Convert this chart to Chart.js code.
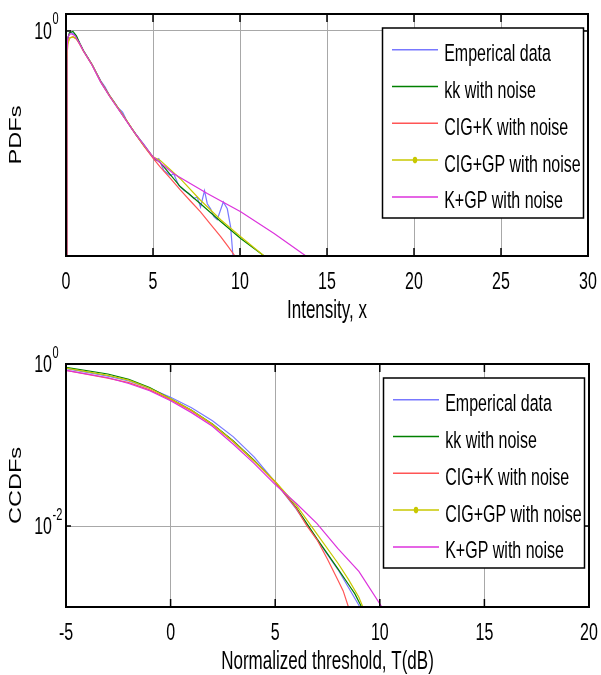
<!DOCTYPE html>
<html>
<head>
<meta charset="utf-8">
<script src="https://cdn.jsdelivr.net/npm/chart.js@4"></script>
<style>
  html, body { margin: 0; padding: 0; background: #fff; }
  #wrap { position: relative; width: 601px; height: 675px; }
  canvas { position: absolute; left: 0; }
  #pdf { top: 0; }
  #ccdf { top: 330px; }
</style>
</head>
<body>
<div id="wrap">
  <canvas id="pdf" width="601" height="330"></canvas>
  <canvas id="ccdf" width="601" height="345"></canvas>
</div>
<script>
// series names (same in both panels)
const seriesNames = ['Emperical data', 'kk with noise', 'CIG+K with noise', 'CIG+GP with noise', 'K+GP with noise'];
const seriesColors = ['rgb(120,120,255)', 'rgb(0,128,0)', 'rgb(255,85,85)', 'rgb(200,200,0)', 'rgb(220,50,220)'];

// top panel: PDFs vs intensity
const pdfXTicks = [0, 5, 10, 15, 20, 25, 30];
const pdfYTicks = [1];
const pdfYExp = ['0'];

const pdfEmpX = [0, 0.05, 0.1, 0.2, 0.3, 0.5, 0.75, 1, 1.25, 1.5, 1.75, 2, 2.25, 2.5, 2.75, 3, 3.25, 3.5, 3.75, 4, 4.25, 4.5, 4.75, 4.85, 5.13, 5.33, 5.62, 6.0, 6.19, 6.48, 6.77, 7.06, 7.35, 7.54, 7.73, 7.96, 8.12, 8.31, 8.5, 8.69, 9.04, 9.27, 9.46, 9.62];
const pdfEmpY = [0.0001, 0.4, 0.75, 0.92, 0.94, 0.86, 0.64, 0.45, 0.34, 0.255, 0.18, 0.13, 0.101, 0.072, 0.056, 0.043, 0.036, 0.025, 0.019, 0.0150, 0.0118, 0.0094, 0.0073, 0.0066, 0.0050, 0.0054, 0.0033, 0.0027, 0.0029, 0.0018, 0.00148, 0.00129, 0.00105, 0.00112, 0.00074, 0.00145, 0.00085, 0.00069, 0.0005, 0.00044, 0.00091, 0.00069, 0.00033, 0.00008];

const pdfKkX = [0, 0.05, 0.1, 0.2, 0.4, 0.6, 0.8, 1, 1.5, 2, 2.5, 3, 3.5, 4, 4.5, 5, 5.42, 6.58, 7.73, 8.89, 10.04, 11.39];
const pdfKkY = [0.0001, 0.35, 0.72, 0.93, 0.98, 0.82, 0.6, 0.45, 0.25, 0.125, 0.071, 0.042, 0.025, 0.0147, 0.0090, 0.0057, 0.00457, 0.0017, 0.00085, 0.00041, 0.000204, 0.0001];

const pdfCigKX = [0, 0.05, 0.1, 0.2, 0.4, 0.6, 0.8, 1, 1.5, 2, 2.5, 3, 3.5, 4, 4.5, 5, 5.42, 6, 6.58, 7.15, 7.73, 8.3, 8.89, 9.3, 9.71];
const pdfCigKY = [0.0001, 0.3, 0.6, 0.75, 0.79, 0.72, 0.57, 0.44, 0.25, 0.125, 0.071, 0.042, 0.025, 0.0145, 0.0088, 0.0055, 0.0038, 0.0024, 0.00148, 0.00095, 0.00061, 0.00037, 0.00022, 0.00015, 0.0001];

const pdfCigGpX = [0, 0.05, 0.1, 0.2, 0.4, 0.6, 0.8, 1, 1.5, 2, 2.5, 3, 3.5, 4, 4.5, 5, 5.42, 6.58, 7.73, 8.89, 10.04, 11.39];
const pdfCigGpY = [0.0001, 0.3, 0.58, 0.74, 0.78, 0.72, 0.58, 0.44, 0.25, 0.124, 0.070, 0.042, 0.025, 0.0147, 0.0091, 0.0058, 0.0050, 0.00234, 0.00098, 0.00044, 0.00022, 0.0001];

const pdfKgpX = [0, 0.05, 0.1, 0.2, 0.3, 0.5, 0.75, 1, 1.5, 2, 2.5, 3, 3.5, 4, 4.5, 5, 6.19, 8.12, 10.04, 11.96, 13.79];
const pdfKgpY = [0.0001, 0.4, 0.75, 0.88, 0.89, 0.83, 0.62, 0.44, 0.245, 0.122, 0.069, 0.041, 0.0245, 0.0146, 0.0092, 0.0058, 0.0029, 0.00129, 0.00061, 0.00025, 0.0001];

// bottom panel: CCDFs vs normalized threshold (dB)
const ccdfXTicks = [-5, 0, 5, 10, 15, 20];
const ccdfYTicks = [0.01, 1];
const ccdfYExp = ['-2', '0'];

const ccdfEmpX = [-5, -3, -2, -1, 0, 1, 2, 3, 4, 5, 6, 7, 8, 9, 9.05];
const ccdfEmpY = [0.875, 0.708, 0.617, 0.501, 0.389, 0.288, 0.1995, 0.126, 0.0708, 0.0347, 0.0163, 0.0068, 0.0029, 0.00105, 0.001];

const ccdfKkX = [-5, -3, -2, -1, 0, 1, 2, 3, 4, 5, 6, 7, 8, 8.5, 8.81, 9.13];
const ccdfKkY = [0.908, 0.752, 0.646, 0.513, 0.372, 0.269, 0.182, 0.112, 0.0646, 0.0351, 0.0170, 0.00692, 0.00295, 0.00191, 0.00145, 0.001];

const ccdfCigKX = [-5, -3, -2, -1, 0, 1, 2, 3, 4, 5, 6, 6.5, 7, 7.5, 8, 8.25, 8.5];
const ccdfCigKY = [0.834, 0.670, 0.589, 0.479, 0.363, 0.263, 0.178, 0.1096, 0.0631, 0.0347, 0.0166, 0.0102, 0.00676, 0.00389, 0.00214, 0.00158, 0.001];

const ccdfCigGpX = [-5, -3, -2, -1, 0, 1, 2, 3, 4, 5, 6, 7, 8, 8.5, 9, 9.19];
const ccdfCigGpY = [0.891, 0.724, 0.631, 0.501, 0.372, 0.269, 0.180, 0.1096, 0.0631, 0.0355, 0.0182, 0.00794, 0.00347, 0.00219, 0.00132, 0.001];

const ccdfKgpX = [-5, -3, -2, -1, 0, 1, 2, 3, 4, 5, 6, 7, 8, 9, 10.1];
const ccdfKgpY = [0.834, 0.676, 0.575, 0.468, 0.351, 0.251, 0.170, 0.102, 0.0589, 0.0324, 0.0191, 0.0107, 0.00525, 0.00275, 0.001];

// the original figure is stretched vertically, text included
const SY = 1.47;
const FONT = "'Liberation Sans', Arial, sans-serif";

function stretchText(ctx, txt, x, y, size, align, bold) {
    ctx.save();
    ctx.translate(x, y);
    ctx.scale(1, SY);
    ctx.font = (bold ? 'bold ' : '') + size + 'px ' + FONT;
    ctx.textAlign = align;
    ctx.textBaseline = 'alphabetic';
    ctx.fillStyle = '#000';
    ctx.fillText(txt, 0, 0);
    ctx.restore();
}

function toPoints(xs, ys) {
    return xs.map((x, i) => ({ x: x, y: ys[i] }));
}

// frame, inward ticks, labels and the boxed legend, matlab style
const matlabLook = {
    id: 'matlabLook',
    afterDraw(chart, args, opts) {
        const ctx = chart.ctx;
        const a = chart.chartArea;
        const xs = chart.scales.x, ys = chart.scales.y;

        ctx.save();
        ctx.strokeStyle = '#000';
        ctx.lineWidth = 2;
        ctx.strokeRect(a.left, a.top, a.right - a.left, a.bottom - a.top);
        ctx.lineWidth = 1.5;
        ctx.beginPath();
        opts.xTicks.forEach(v => {
            const px = xs.getPixelForValue(v);
            ctx.moveTo(px, a.top); ctx.lineTo(px, a.top + 8);
            ctx.moveTo(px, a.bottom); ctx.lineTo(px, a.bottom - 8);
        });
        opts.yTicks.forEach(v => {
            const py = ys.getPixelForValue(v);
            ctx.moveTo(a.left, py); ctx.lineTo(a.left + 5, py);
            ctx.moveTo(a.right, py); ctx.lineTo(a.right - 5, py);
        });
        ctx.stroke();
        ctx.restore();

        opts.xTicks.forEach(v => {
            stretchText(ctx, String(v), xs.getPixelForValue(v), a.bottom + 32.5, 16, 'center');
        });
        opts.yTicks.forEach((v, i) => {
            const py = ys.getPixelForValue(v);
            stretchText(ctx, '10', a.left - 14, py + 8.4, 16, 'right');
            stretchText(ctx, opts.yExp[i], a.left - 13.5, py - 6.5, 11, 'left');
        });
        stretchText(ctx, opts.xTitle, (a.left + a.right) / 2, a.bottom + 62, 17, 'center');

        ctx.save();
        ctx.translate(16.7, (a.top + a.bottom) / 2);
        ctx.rotate(-Math.PI / 2);
        ctx.scale(SY, 1);
        ctx.font = '16px ' + FONT;
        ctx.textAlign = 'center';
        ctx.textBaseline = 'middle';
        ctx.fillStyle = '#000';
        ctx.fillText(opts.yTitle, 0, 0);
        ctx.restore();

        // legend box
        const bw = 201, bh = 190;
        const bx = a.right - 4.5 - bw, by = a.top + 14;
        ctx.save();
        ctx.fillStyle = '#fff';
        ctx.fillRect(bx, by, bw, bh);
        ctx.strokeStyle = '#000';
        ctx.lineWidth = 1.5;
        ctx.strokeRect(bx, by, bw, bh);
        chart.data.datasets.forEach((ds, i) => {
            const ly = by + 21.7 + i * 36.8;
            ctx.strokeStyle = ds.borderColor;
            ctx.lineWidth = 1.5;
            ctx.beginPath();
            ctx.moveTo(bx + 9.5, ly);
            ctx.lineTo(bx + 55.5, ly);
            ctx.stroke();
            if (i === opts.markerIndex) {
                ctx.fillStyle = ds.borderColor;
                ctx.beginPath();
                ctx.ellipse(bx + 32.5, ly, 2.2, 3.3, 0, 0, 2 * Math.PI);
                ctx.fill();
            }
            stretchText(ctx, ds.label, bx + 61.7, ly + 11.5, 16, 'left');
        });
        ctx.restore();
    }
};

function makePanel(id, xsList, ysList, look, xRange, yRange, pad) {
    const datasets = seriesNames.map((name, i) => ({
        label: name,
        data: toPoints(xsList[i], ysList[i]),
        borderColor: seriesColors[i],
        borderWidth: 1.2,
        pointRadius: 0,
        tension: 0,
        fill: false,
        order: seriesNames.length - i
    }));

    return new Chart(document.getElementById(id), {
        type: 'line',
        data: { datasets: datasets },
        options: {
            responsive: false,
            animation: false,
            layout: { padding: pad },
            plugins: {
                legend: { display: false },
                tooltip: { enabled: false },
                matlabLook: look
            },
            scales: {
                x: {
                    type: 'linear',
                    min: xRange[0],
                    max: xRange[1],
                    afterBuildTicks: s => { s.ticks = look.xTicks.map(v => ({ value: v })); },
                    ticks: { display: false },
                    grid: { color: '#a8a8a8', lineWidth: 1, drawTicks: false },
                    border: { display: false }
                },
                y: {
                    type: 'logarithmic',
                    min: yRange[0],
                    max: yRange[1],
                    afterBuildTicks: s => { s.ticks = look.yTicks.map(v => ({ value: v })); },
                    ticks: { display: false },
                    grid: { color: '#a8a8a8', lineWidth: 1, drawTicks: false },
                    border: { display: false }
                }
            }
        },
        plugins: [matlabLook]
    });
}

makePanel('pdf',
    [pdfEmpX, pdfKkX, pdfCigKX, pdfCigGpX, pdfKgpX],
    [pdfEmpY, pdfKkY, pdfCigKY, pdfCigGpY, pdfKgpY],
    { xTicks: pdfXTicks, yTicks: pdfYTicks, yExp: pdfYExp, xTitle: 'Intensity, x', yTitle: 'PDFs', markerIndex: 3 },
    [0, 30], [0.0001, 2],
    { left: 66, top: 14, right: 13, bottom: 74 });

makePanel('ccdf',
    [ccdfEmpX, ccdfKkX, ccdfCigKX, ccdfCigGpX, ccdfKgpX],
    [ccdfEmpY, ccdfKkY, ccdfCigKY, ccdfCigGpY, ccdfKgpY],
    { xTicks: ccdfXTicks, yTicks: ccdfYTicks, yExp: ccdfYExp, xTitle: 'Normalized threshold, T(dB)', yTitle: 'CCDFs', markerIndex: 3 },
    [-5, 20], [0.001, 1],
    { left: 66, top: 34, right: 12, bottom: 68 });
</script>
</body>
</html>
